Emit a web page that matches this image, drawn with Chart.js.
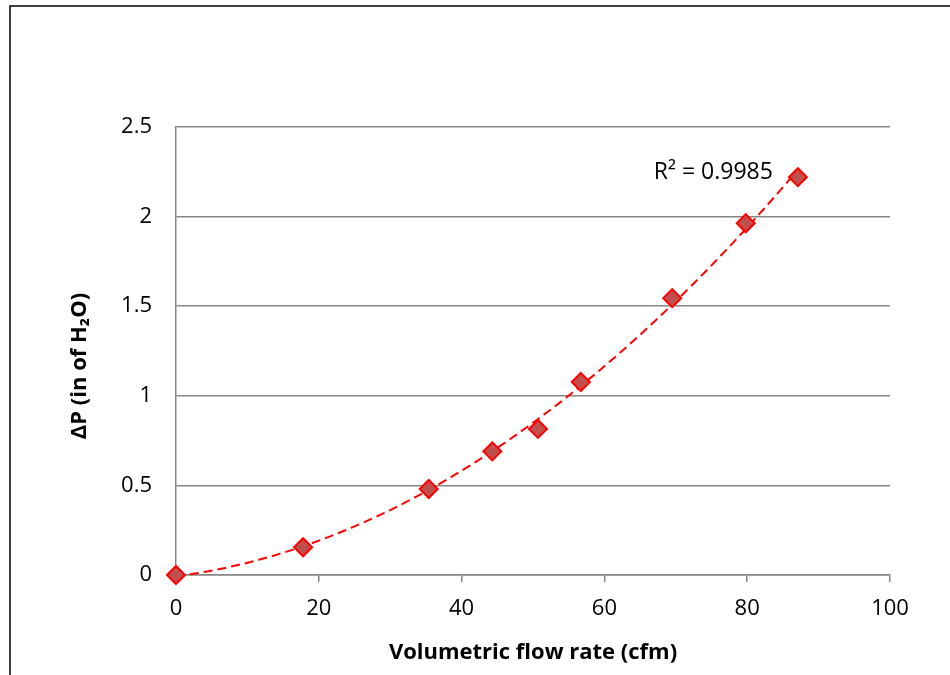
<!DOCTYPE html>
<html>
<head>
<meta charset="utf-8">
<script src="https://cdn.jsdelivr.net/npm/chart.js@4"></script>
<style>
  html, body { margin: 0; padding: 0; background: #fff; }
  #wrap { width: 950px; height: 675px; position: relative; }
</style>
</head>
<body>
<div id="wrap"><canvas id="chart"></canvas></div>
<script>
// measured points
const flowRate = [0, 17.8, 35.4, 44.3, 50.7, 56.7, 69.5, 79.8, 87.1];
const pressureDrop = [0, 0.155, 0.48, 0.69, 0.815, 1.077, 1.545, 1.963, 2.22];
const rSquaredLabel = 'R² = 0.9985';
const yTitle = 'ΔP (in of H₂O)';
const xTicks = [0, 20, 40, 60, 80, 100];
const yTicks = [0, 0.5, 1, 1.5, 2, 2.5];
const yTickLabels = ['0', '0.5', '1', '1.5', '2', '2.5'];

const FONT = '"Open Sans", sans-serif';

// least squares fit, 2nd order, like the spreadsheet trendline
function quadFit(xs, ys) {
    let s = [0, 0, 0, 0, 0], t = [0, 0, 0];
    for (let i = 0; i < xs.length; i++) {
        let p = 1;
        for (let k = 0; k < 5; k++) { s[k] += p; if (k < 3) t[k] += p * ys[i]; p *= xs[i]; }
    }
    const m = [[s[0], s[1], s[2], t[0]], [s[1], s[2], s[3], t[1]], [s[2], s[3], s[4], t[2]]];
    for (let c = 0; c < 3; c++) {
        for (let r = c + 1; r < 3; r++) {
            const f = m[r][c] / m[c][c];
            for (let k = c; k < 4; k++) m[r][k] -= f * m[c][k];
        }
    }
    const a = [0, 0, 0];
    for (let r = 2; r >= 0; r--) {
        let v = m[r][3];
        for (let k = r + 1; k < 3; k++) v -= m[r][k] * a[k];
        a[r] = v / m[r][r];
    }
    return x => a[0] + a[1] * x + a[2] * x * x;
}

const fit = quadFit(flowRate, pressureDrop);
const trendPoints = [];
const xEnd = flowRate[flowRate.length - 1];
for (let i = 0; i <= 60; i++) {
    const x = xEnd * i / 60;
    trendPoints.push({ x: x, y: fit(x) });
}

// outer frame lines, y title, R² label
const framePlugin = {
    id: 'frame',
    afterDraw(chart) {
        const ctx = chart.ctx;
        ctx.save();
        ctx.strokeStyle = '#000';
        ctx.lineWidth = 1.5;
        ctx.beginPath();
        ctx.moveTo(10, 675);
        ctx.lineTo(10, 6);
        ctx.lineTo(950, 6);
        ctx.stroke();

        const xs = chart.scales.x, ys = chart.scales.y;
        ctx.fillStyle = '#000';
        ctx.font = '23px ' + FONT;
        ctx.textAlign = 'right';
        ctx.textBaseline = 'middle';
        const last = flowRate.length - 1;
        ctx.fillText(rSquaredLabel, xs.getPixelForValue(flowRate[last]) - 25, ys.getPixelForValue(pressureDrop[last]) - 5);

        // y title sits a bit below the plot centre, like the original
        ctx.translate(80, (chart.chartArea.top + chart.chartArea.bottom) / 2 + 15);
        ctx.rotate(-Math.PI / 2);
        ctx.textAlign = 'center';
        ctx.font = 'bold 22px ' + FONT;
        ctx.fillText(yTitle, 0, 0);
        ctx.restore();
    }
};

new Chart(document.getElementById('chart'), {
    type: 'scatter',
    data: {
        datasets: [
            {
                label: 'Trend',
                type: 'line',
                data: trendPoints,
                borderColor: '#ff0000',
                borderWidth: 2,
                borderDash: [9, 5],
                pointRadius: 0,
                fill: false,
                clip: false,
                order: 2
            },
            {
                label: 'Data',
                data: flowRate.map((x, i) => ({ x: x, y: pressureDrop[i] })),
                pointStyle: 'rectRot',
                pointRadius: 9,
                pointBackgroundColor: '#c0504d',
                pointBorderColor: '#ff0000',
                pointBorderWidth: 2,
                clip: false,
                order: 1
            }
        ]
    },
    options: {
        responsive: true,
        maintainAspectRatio: false,
        animation: false,
        layout: { padding: { top: 127, right: 60, left: 0, bottom: 0 } },
        plugins: { legend: { display: false }, tooltip: { enabled: false } },
        scales: {
            x: {
                type: 'linear',
                min: 0, max: 100,
                afterBuildTicks: s => { s.ticks = xTicks.map(v => ({ value: v })); },
                afterFit: s => { s.height = 100; },
                grid: { drawOnChartArea: false, drawTicks: true, tickLength: 7, color: '#868686', lineWidth: 1.5 },
                border: { color: '#868686', width: 1.5 },
                ticks: { color: '#000', font: { family: FONT, size: 22 }, padding: 14, maxRotation: 0 },
                title: { display: true, text: 'Volumetric flow rate (cfm)', color: '#000',
                         font: { family: FONT, size: 22, weight: 'bold' }, padding: { top: 4, bottom: 9 } }
            },
            y: {
                min: 0, max: 2.5,
                afterBuildTicks: s => { s.ticks = yTicks.map(v => ({ value: v })); },
                afterFit: s => { s.width = 176; },
                grid: { color: '#868686', lineWidth: 1.5, drawTicks: false },
                border: { color: '#868686', width: 1.5 },
                ticks: { color: '#000', font: { family: FONT, size: 22 }, padding: 24,
                         callback: (v, i) => yTickLabels[i] }
            }
        }
    },
    plugins: [framePlugin]
});
</script>
</body>
</html>
